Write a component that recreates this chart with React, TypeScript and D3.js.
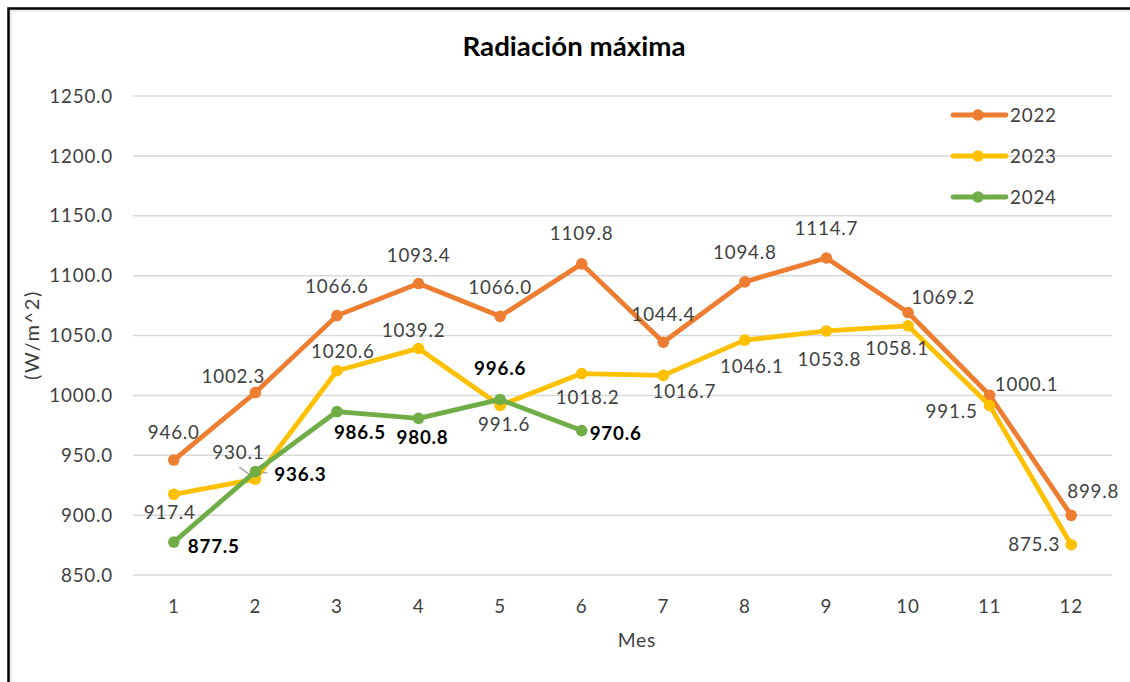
import React from "react";
import * as d3 from "d3";

const months = ["1", "2", "3", "4", "5", "6", "7", "8", "9", "10", "11", "12"];
const s2022 = [946.0, 1002.3, 1066.6, 1093.4, 1066.0, 1109.8, 1044.4, 1094.8, 1114.7, 1069.2, 1000.1, 899.8];
const s2023 = [917.4, 930.1, 1020.6, 1039.2, 991.6, 1018.2, 1016.7, 1046.1, 1053.8, 1058.1, 991.5, 875.3];
const s2024 = [877.5, 936.3, 986.5, 980.8, 996.6, 970.6];
const yTicks = [850, 900, 950, 1000, 1050, 1100, 1150, 1200, 1250];
const seriesNames = ["2022", "2023", "2024"];
const colors = ["#ED7D31", "#FFC000", "#70AD47"];

// label offsets (dx, dy to label centre), layout only
const off2022 = [[0, -28], [-22, -16], [0, -29], [0, -28], [0, -29], [0, -31], [0, -28], [0, -30], [0, -30], [35, -15], [37, -11], [22, -24]];
const off2023 = [[-4, 18], [-17, -27], [6, -19], [-5, -18], [4, 19], [6, 24], [21, 16], [7, 26], [3, 28], [-11, 22], [-38, 6], [-37, 0]];
const off2024 = [[40, 4], [45, 3], [23, 21], [4, 19], [0, -31], [34, 3]];

const W = 1130, H = 682;
const FONT = "Lato, 'Open Sans', sans-serif";
const FS = 18.8;
const LS = 0.8;

export default function App() {
  const x = d3.scaleBand().domain(months).range([133, 1112]).paddingInner(0).paddingOuter(0);
  const cx = (m: string) => (x(m) as number) + x.bandwidth() / 2;
  const y = d3.scaleLinear().domain([850, 1250]).range([575, 96]);
  const line = d3.line<number>().x((_, i) => cx(months[i])).y((v) => y(v));
  const all = [s2022, s2023, s2024];
  const offs = [off2022, off2023, off2024];

  const p2 = { x: cx(months[1]), yG: y(s2024[1]), yY: y(s2023[1]) };

  return (
    <svg width={W} height={H} style={{ position: "absolute", left: 0, top: 0, background: "#fff" }} fontFamily={FONT}>
      <rect x={0} y={0} width={W} height={H} fill="#fff" />
      <rect x={11} y={11} width={W} height={H} fill="none" stroke="#D9D9D9" strokeWidth={1} />
      <path d={`M8.5,${H} V8.5 H${W}`} fill="none" stroke="#000" strokeWidth={2.5} />
      <text x={574} y={56} textAnchor="middle" fontSize={26} fontWeight={700} fill="#000" textLength={223} lengthAdjust="spacingAndGlyphs">Radiación máxima</text>
      {yTicks.map((t) => (
        <g key={t}>
          <line x1={133} x2={1112} y1={y(t)} y2={y(t)} stroke="#D9D9D9" strokeWidth={1.5} />
          <text x={113} y={y(t) + 6.7} textAnchor="end" fontSize={FS} letterSpacing={LS} fill="#3F3F3F">{t.toFixed(1)}</text>
        </g>
      ))}
      {months.map((m) => (
        <text key={m} x={cx(m)} y={612.5} textAnchor="middle" fontSize={FS} letterSpacing={LS} fill="#3F3F3F">{m}</text>
      ))}
      <text x={637} y={647} textAnchor="middle" fontSize={FS + 0.5} letterSpacing={LS} fill="#3F3F3F">Mes</text>
      <text transform={`translate(39,335) rotate(-90)`} textAnchor="middle" fontSize={20} letterSpacing={1.6} fill="#3F3F3F">(W/m^2)</text>
      {/* leader lines */}
      <line x1={p2.x - 5} y1={p2.yY - 4} x2={p2.x - 16} y2={p2.yY - 12} stroke="#A6A6A6" strokeWidth={1.5} />
      <line x1={p2.x + 3} y1={p2.yG + 1} x2={p2.x + 12} y2={p2.yG + 1} stroke="#A6A6A6" strokeWidth={1.5} />
      {all.map((s, k) => (
        <g key={k}>
          <path d={line(s) as string} fill="none" stroke={colors[k]} strokeWidth={4.8} strokeLinejoin="round" strokeLinecap="round" />
          {s.map((v, i) => (
            <circle key={i} cx={cx(months[i])} cy={y(v)} r={5.8} fill={colors[k]} />
          ))}
        </g>
      ))}
      {all.map((s, k) => (
        <g key={"l" + k}>
          {s.map((v, i) => (
            <text key={i} x={cx(months[i]) + offs[k][i][0]} y={y(v) + offs[k][i][1] + 6.7} textAnchor="middle" fontSize={FS} letterSpacing={LS}
              fontWeight={k === 2 ? 700 : 400} fill={k === 2 ? "#000" : "#3F3F3F"}>{v.toFixed(1)}</text>
          ))}
        </g>
      ))}
      {seriesNames.map((n, k) => (
        <g key={n} transform={`translate(0,${115 + k * 41})`}>
          <line x1={953} x2={1006} y1={0} y2={0} stroke={colors[k]} strokeWidth={4.8} strokeLinecap="round" />
          <circle cx={978} cy={0} r={5.8} fill={colors[k]} />
          <text x={1010} y={6.7} fontSize={FS} letterSpacing={LS} fill="#3F3F3F">{n}</text>
        </g>
      ))}
    </svg>
  );
}
